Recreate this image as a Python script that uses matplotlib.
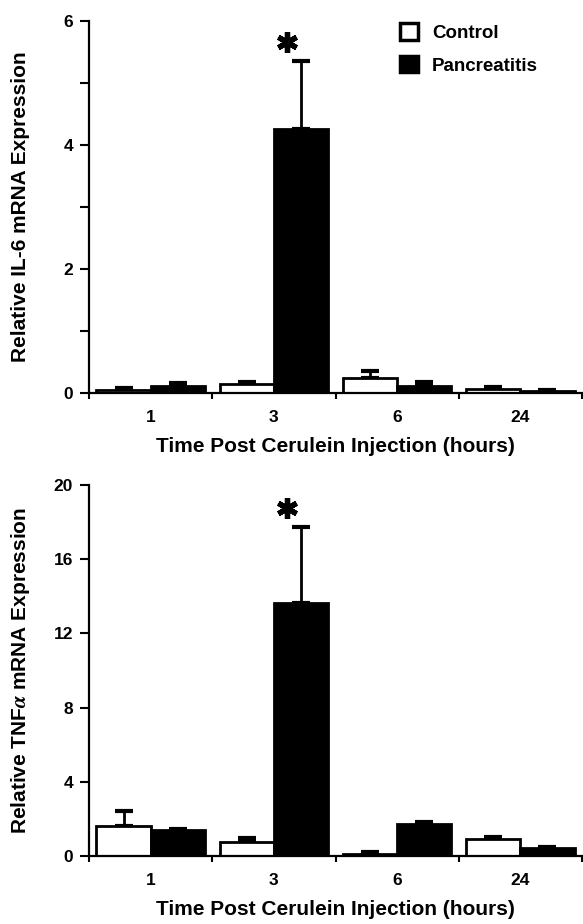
import matplotlib
matplotlib.use("Agg")
import matplotlib.pyplot as plt
from matplotlib.patches import Patch
import matplotlib.transforms as mtransforms
import numpy as np

plt.rcParams['font.family'] = ['Liberation Sans', 'DejaVu Sans']
plt.rcParams['font.weight'] = 'bold'
plt.rcParams['mathtext.fontset'] = 'stix'

times = ['1', '3', '6', '24']

# IL-6 panel
il6_control = [0.05, 0.15, 0.24, 0.07]
il6_control_err = [0.03, 0.03, 0.11, 0.03]
il6_panc = [0.11, 4.26, 0.12, 0.03]
il6_panc_err = [0.05, 1.09, 0.05, 0.02]

# TNF-alpha panel
tnf_control = [1.62, 0.77, 0.12, 0.9]
tnf_control_err = [0.82, 0.2, 0.1, 0.14]
tnf_panc = [1.38, 13.66, 1.72, 0.42]
tnf_panc_err = [0.08, 4.05, 0.12, 0.06]

fig = plt.figure(figsize=(5.83, 9.24), dpi=100)
ax1 = fig.add_axes([0.1527, 0.5747, 0.8456, 0.4026])
ax2 = fig.add_axes([0.1527, 0.0736, 0.8456, 0.4015])

width = 0.44
lw = 2.0


def draw_panel(ax, ctrl, ctrl_err, panc, panc_err, ymax, yticks, ylabels, ylabel):
    x = np.arange(len(times))
    xc = x + 0.5 - width / 2
    xp = x + 0.5 + width / 2
    ax.bar(xc, ctrl, width, color='white', edgecolor='black', linewidth=lw, zorder=3)
    ax.bar(xp, panc, width, color='black', edgecolor='black', linewidth=lw, zorder=3)
    # only the upper half of the error bars is drawn
    ax.errorbar(xc, ctrl, yerr=[np.zeros(len(ctrl)), ctrl_err], fmt='none',
                ecolor='black', elinewidth=2, capsize=6.5, capthick=3, zorder=2)
    ax.errorbar(xp, panc, yerr=[np.zeros(len(panc)), panc_err], fmt='none',
                ecolor='black', elinewidth=2, capsize=6.5, capthick=3, zorder=2)

    ax.set_xlim(0, len(times))
    ax.set_ylim(0, ymax)
    for s in ['top', 'right']:
        ax.spines[s].set_visible(False)
    for s in ['left', 'bottom']:
        ax.spines[s].set_linewidth(1.6)
        ax.spines[s].set_zorder(4)

    ax.set_yticks(yticks)
    ax.set_yticklabels(ylabels)
    ax.tick_params(axis='y', length=6.5, width=1.5, pad=5, labelsize=12.5)

    ax.set_xticks(np.arange(len(times) + 1))
    ax.set_xticklabels([])
    ax.set_xticks(x + 0.5, minor=True)
    ax.set_xticklabels(times, minor=True)
    ax.tick_params(axis='x', which='major', length=4.5, width=1.5)
    ax.tick_params(axis='x', which='minor', length=0, pad=12, labelsize=12.5)

    ax.set_xlabel('Time Post Cerulein Injection (hours)', fontsize=15,
                  fontweight='bold', labelpad=9)
    ax.text(-0.138, 0.5, ylabel, transform=ax.transAxes, rotation=90,
            ha='center', va='center', fontsize=15, fontweight='bold')

    # significance marker above the pancreatitis bar at 3 h
    i = 1
    shift = mtransforms.ScaledTranslation(0, 19 / 100, fig.dpi_scale_trans)
    ax.plot([xp[i] - 0.115], [panc[i] + panc_err[i]], linestyle='none',
            marker=(6, 2, 0), markersize=15, markeredgewidth=3.8, color='black',
            transform=ax.transData + shift, clip_on=False)


draw_panel(ax1, il6_control, il6_control_err, il6_panc, il6_panc_err, 6,
           range(7), ['0', '', '2', '', '4', '', '6'],
           'Relative IL-6 mRNA Expression')
draw_panel(ax2, tnf_control, tnf_control_err, tnf_panc, tnf_panc_err, 20,
           range(0, 21, 4), [str(v) for v in range(0, 21, 4)],
           r'Relative TNF$\alpha$ mRNA Expression')

handles = [Patch(facecolor='white', edgecolor='black', linewidth=2.5),
           Patch(facecolor='black', edgecolor='black', linewidth=2.5)]
ax1.legend(handles, ['Control', 'Pancreatitis'], loc='upper left',
           bbox_to_anchor=(0.63, 0.995), frameon=False, fontsize=13.5,
           handlelength=1.0, handleheight=1.0, handletextpad=0.72,
           labelspacing=0.75, borderpad=0, borderaxespad=0)

fig.savefig('out.png', dpi=100)
